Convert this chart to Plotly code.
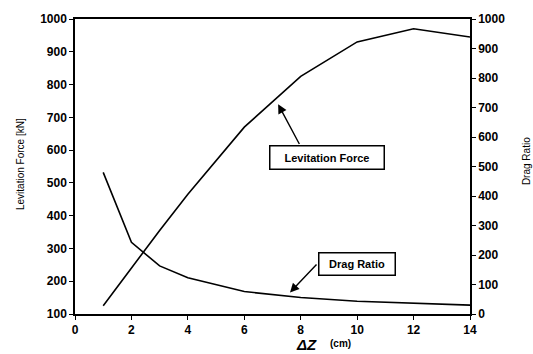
import plotly.graph_objects as go

dz = [1, 2, 3, 4, 6, 8, 10, 12, 14]
levitation_force = [125, 240, 355, 465, 670, 825, 930, 970, 945]
drag_ratio = [480, 243, 163, 123, 76, 56, 43, 36, 30]

x_ticks = [0, 2, 4, 6, 8, 10, 12, 14]
left_ticks = [100, 200, 300, 400, 500, 600, 700, 800, 900, 1000]
right_ticks = [0, 100, 200, 300, 400, 500, 600, 700, 800, 900, 1000]

FONT = "Liberation Sans, Arial, sans-serif"
tickfont = dict(family=FONT, size=12, color="black", weight="bold")

fig = go.Figure()
fig.add_trace(go.Scatter(x=dz, y=levitation_force, mode="lines",
                         line=dict(color="black", width=1.6), yaxis="y"))
fig.add_trace(go.Scatter(x=dz, y=drag_ratio, mode="lines",
                         line=dict(color="black", width=1.6), yaxis="y2"))

axis_common = dict(showgrid=False, zeroline=False, showline=True, linecolor="black",
                   linewidth=1.5, ticks="outside", ticklen=4, tickwidth=1.2,
                   tickcolor="black", tickfont=tickfont)

fig.update_layout(
    width=533, height=354,
    margin=dict(l=75, r=63, t=13, b=40),
    paper_bgcolor="white", plot_bgcolor="white",
    showlegend=False,
    xaxis=dict(range=[0, 14], tickvals=x_ticks, mirror=True, **axis_common),
    yaxis=dict(range=[100, 1000], tickvals=left_ticks, **axis_common),
    yaxis2=dict(range=[0, 1000], tickvals=right_ticks, overlaying="y", side="right",
                **axis_common),
)

annotations = [
    # axis titles
    dict(text="Levitation Force [kN]", xref="paper", yref="paper",
         x=(20-75)/395, y=(314-161)/301, textangle=-90, showarrow=False,
         font=dict(family=FONT, size=10, color="black"), xanchor="center", yanchor="middle"),
    dict(text="Drag Ratio", xref="paper", yref="paper",
         x=(526-75)/395, y=(314-158)/301, textangle=-90, showarrow=False,
         font=dict(family=FONT, size=10, color="black"), xanchor="center", yanchor="middle"),
    dict(text="<i><b>ΔZ</b></i>", xref="paper", yref="paper",
         x=(306-75)/395, y=(314-345)/301, showarrow=False,
         font=dict(family=FONT, size=15, color="black"), xanchor="center", yanchor="middle"),
    dict(text="(cm)", xref="paper", yref="paper",
         x=(340-75)/395, y=(314-344)/301, showarrow=False,
         font=dict(family=FONT, size=10, color="black", weight="bold"),
         xanchor="center", yanchor="middle"),
    # label boxes
    dict(text="Levitation Force", x=8.92, y=578, xref="x", yref="y", showarrow=False,
         font=dict(family=FONT, size=11, color="black", weight="bold"),
         bordercolor="black", borderwidth=1.5, borderpad=3, bgcolor="white",
         width=107, height=16),
    dict(text="Drag Ratio", x=10.01, y=171, xref="x", yref="y2", showarrow=False,
         font=dict(family=FONT, size=11, color="black", weight="bold"),
         bordercolor="black", borderwidth=1.5, borderpad=3, bgcolor="white",
         width=69, height=15),
    # arrows
    dict(text="", x=7.2, y=740, xref="x", yref="y", ax=7.98, ay=614,
         axref="x", ayref="y", showarrow=True, arrowhead=2, arrowsize=1.3,
         arrowwidth=1.4, arrowcolor="black"),
    dict(text="", x=7.62, y=73, xref="x", yref="y2", ax=8.61, ay=173,
         axref="x", ayref="y2", showarrow=True, arrowhead=2, arrowsize=1.3,
         arrowwidth=1.4, arrowcolor="black"),
]
fig.update_layout(annotations=annotations)

fig.write_html("out.html")
